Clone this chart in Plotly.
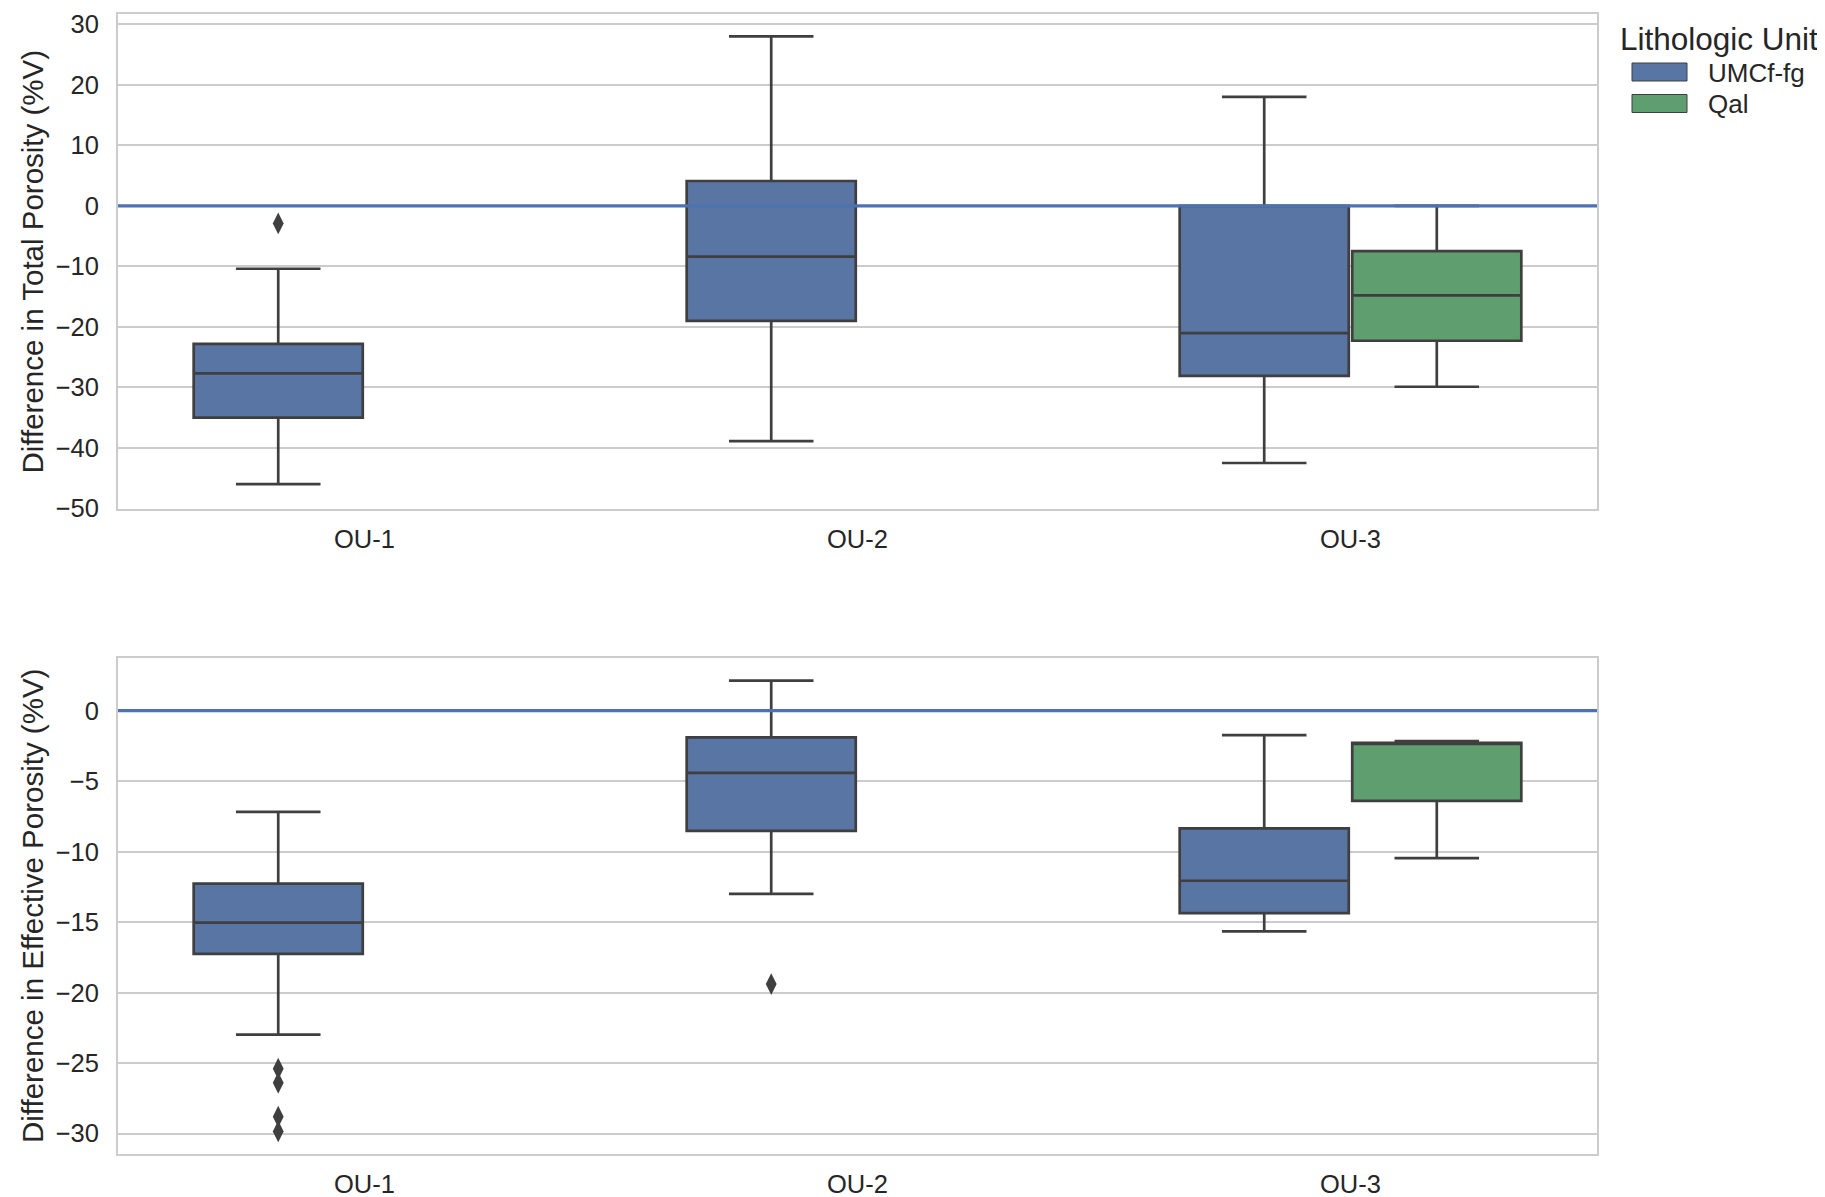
import plotly.graph_objects as go

# ---------------- data ----------------
categories = ["OU-1", "OU-2", "OU-3"]
units = ["UMCf-fg", "Qal"]

# Total porosity difference (%V)
tot_umcf_cat = ["OU-1", "OU-2", "OU-3"]
tot_umcf_q1 = [-35.0, -19.0, -28.1]
tot_umcf_med = [-27.7, -8.4, -21.05]
tot_umcf_q3 = [-22.8, 4.1, 0.0]
tot_umcf_lo = [-46.0, -38.9, -42.5]
tot_umcf_hi = [-10.4, 28.0, 18.0]
tot_umcf_out_cat = ["OU-1"]
tot_umcf_out_val = [-2.9]

tot_qal_cat = ["OU-3"]
tot_qal_q1 = [-22.3]
tot_qal_med = [-14.8]
tot_qal_q3 = [-7.5]
tot_qal_lo = [-29.9]
tot_qal_hi = [0.0]

# Effective porosity difference (%V)
eff_umcf_cat = ["OU-1", "OU-2", "OU-3"]
eff_umcf_q1 = [-17.25, -8.53, -14.36]
eff_umcf_med = [-15.04, -4.42, -12.07]
eff_umcf_q3 = [-12.28, -1.9, -8.35]
eff_umcf_lo = [-22.98, -13.0, -15.66]
eff_umcf_hi = [-7.18, 2.13, -1.74]
eff_umcf_out_cat = ["OU-1", "OU-1", "OU-1", "OU-1", "OU-2"]
eff_umcf_out_val = [-25.4, -26.4, -28.8, -29.85, -19.4]

eff_qal_cat = ["OU-3"]
eff_qal_q1 = [-6.4]
eff_qal_med = [-2.29]
eff_qal_q3 = [-2.29]
eff_qal_lo = [-10.46]
eff_qal_hi = [-2.16]

y_titles = ["Difference in Total Porosity (%V)", "Difference in Effective Porosity (%V)"]
legend_title = "Lithologic Unit"

# ---------------- style ----------------
OFF = 8  # default page body margin
W, H = 1825 - OFF, 1197 - OFF
ML, MR, MT, MB = 118 - OFF, 1825 - 1597, 14 - OFF, 1197 - 1154
PW, PH = W - ML - MR, H - MT - MB
FONT = "Liberation Sans, Arial, sans-serif"
TXT = "#262626"
EDGE = "#3f3f3f"
FILL = {"UMCf-fg": "#5975a4", "Qal": "#5f9e6e"}
GRID = "#cccccc"
ZERO = "#4c72b0"
HUE_WIDTH = 0.7
n_hue = len(units)
slot = HUE_WIDTH / n_hue
box_w = slot * 0.98


def pos(cat, unit):
    return categories.index(cat) - HUE_WIDTH / 2 + slot * (units.index(unit) + 0.5)


def px_x(p):  # page pixel -> paper fraction
    return (p - OFF - ML) / PW


def px_y(p):
    return (H - MB - (p - OFF)) / PH


fig = go.Figure()


def add_box(cats, unit, q1, med, q3, lo, hi, xa, ya):
    fig.add_trace(go.Box(
        x=[pos(c, unit) for c in cats], q1=q1, median=med, q3=q3,
        lowerfence=lo, upperfence=hi, width=box_w, whiskerwidth=0.5,
        fillcolor=FILL[unit], line=dict(color=EDGE, width=2.7),
        boxpoints=False, name=unit, showlegend=False, xaxis=xa, yaxis=ya,
    ))


def add_out(cats, vals, unit, xa, ya):
    fig.add_trace(go.Scatter(
        x=[pos(c, unit) for c in cats], y=vals, mode="markers",
        marker=dict(symbol="diamond-tall", size=15.5, color=EDGE, line=dict(width=0)),
        showlegend=False, xaxis=xa, yaxis=ya, hoverinfo="y",
    ))


add_box(tot_umcf_cat, "UMCf-fg", tot_umcf_q1, tot_umcf_med, tot_umcf_q3, tot_umcf_lo, tot_umcf_hi, "x", "y")
add_box(tot_qal_cat, "Qal", tot_qal_q1, tot_qal_med, tot_qal_q3, tot_qal_lo, tot_qal_hi, "x", "y")
add_out(tot_umcf_out_cat, tot_umcf_out_val, "UMCf-fg", "x", "y")

add_box(eff_umcf_cat, "UMCf-fg", eff_umcf_q1, eff_umcf_med, eff_umcf_q3, eff_umcf_lo, eff_umcf_hi, "x2", "y2")
add_box(eff_qal_cat, "Qal", eff_qal_q1, eff_qal_med, eff_qal_q3, eff_qal_lo, eff_qal_hi, "x2", "y2")
add_out(eff_umcf_out_cat, eff_umcf_out_val, "UMCf-fg", "x2", "y2")

top_dom = [px_y(509), 1.0]
bot_dom = [0.0, px_y(658)]

xcommon = dict(
    range=[-0.5, 2.5], tickvals=list(range(len(categories))), ticktext=categories,
    showgrid=False, zeroline=False, showline=True, mirror=True, linecolor=GRID, linewidth=2,
    ticks="outside", ticklen=6, tickcolor="rgba(0,0,0,0)",
    tickfont=dict(family=FONT, size=25.5, color=TXT),
)
ycommon = dict(
    showgrid=True, gridcolor=GRID, gridwidth=1.8, zeroline=False,
    showline=True, mirror=True, linecolor=GRID, linewidth=2,
    ticks="outside", ticklen=12, tickcolor="rgba(0,0,0,0)",
    tickfont=dict(family=FONT, size=25.5, color=TXT),
)

fig.update_layout(
    width=W, height=H, margin=dict(l=ML, r=MR, t=MT, b=MB, autoexpand=False),
    paper_bgcolor="white", plot_bgcolor="white", showlegend=False,
    xaxis=dict(domain=[0, 1], anchor="y", **xcommon),
    yaxis=dict(domain=top_dom, anchor="x", range=[-50.1, 31.7], dtick=10, **ycommon),
    xaxis2=dict(domain=[0, 1], anchor="y2", **xcommon),
    yaxis2=dict(domain=bot_dom, anchor="x2", range=[-31.45, 3.73], dtick=5, **ycommon),
    boxmode="overlay",
)

# zero reference lines
for xa, ya in [("x", "y"), ("x2", "y2")]:
    fig.add_shape(type="line", xref=f"{xa} domain", yref=ya, x0=0, x1=1, y0=0, y1=0,
                  line=dict(color=ZERO, width=3.4), layer="above")

# y-axis titles
for title, dom in zip(y_titles, [top_dom, bot_dom]):
    fig.add_annotation(text=title, textangle=-90, xref="paper", yref="paper",
                       x=px_x(32), y=(dom[0] + dom[1]) / 2, xanchor="center", yanchor="middle",
                       showarrow=False, font=dict(family=FONT, size=29.5, color=TXT))

# legend (drawn manually to match patch style)
fig.add_annotation(text=legend_title, xref="paper", yref="paper", x=px_x(1618), y=px_y(39),
                   xanchor="left", yanchor="middle", showarrow=False,
                   font=dict(family=FONT, size=31.5, color=TXT))
for i, u in enumerate(units):
    cy = 72 + 31.5 * i
    fig.add_shape(type="rect", xref="paper", yref="paper",
                  x0=px_x(1632), x1=px_x(1687), y0=px_y(cy - 9), y1=px_y(cy + 9),
                  fillcolor=FILL[u], line=dict(color=EDGE, width=1))
    fig.add_annotation(text=u, xref="paper", yref="paper", x=px_x(1706), y=px_y(cy + 1),
                       xanchor="left", yanchor="middle", showarrow=False,
                       font=dict(family=FONT, size=26, color=TXT))

fig.write_html("out.html")
